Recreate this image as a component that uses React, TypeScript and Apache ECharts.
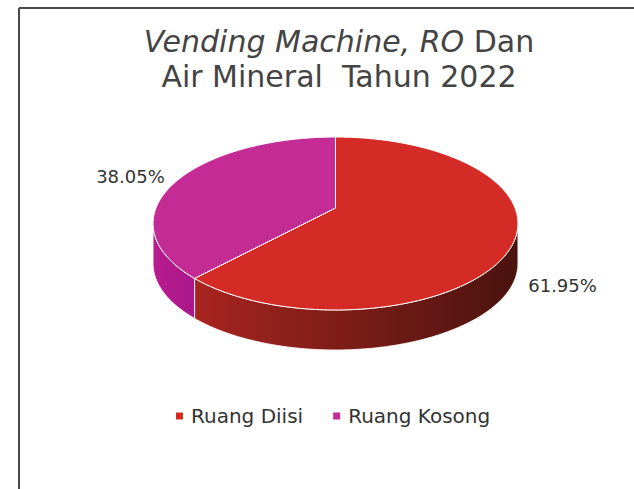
import React, { useEffect, useRef } from "react";
import * as echarts from "echarts";

const categories = ["Ruang Diisi", "Ruang Kosong"];
const values = [61.95, 38.05];
const labelTexts = ["61.95%", "38.05%"];
const topColors = ["#D52B26", "#C52B95"];
const sideColors = [
  ["#A8241F", "#4A130F"],
  ["#B81C8F", "#A9178A"],
];

const FONT = "DejaVu Sans";
const CX = 335.5;
const CY = 208;
const RX = 179.5;
const RY = 83.7;
const K = 0.1792;
const DEPTH = 40;

function proj(theta: number): number[] {
  const u = Math.sin(theta);
  const v = Math.cos(theta);
  const w = 1 / (1 + K * v);
  return [CX + RX * u * w, CY - RY * v * w];
}

function arc(a: number, b: number): number[][] {
  const pts: number[][] = [];
  const n = Math.max(2, Math.ceil(((b - a) * 180) / Math.PI));
  for (let j = 0; j <= n; j++) pts.push(proj(a + ((b - a) * j) / n));
  return pts;
}

const total = values.reduce((s, v) => s + v, 0);

function renderItem(params: any) {
  const i = params.seriesIndex;
  let before = 0;
  for (let j = 0; j < i; j++) before += values[j];
  const a = (before / total) * Math.PI * 2;
  const b = ((before + values[i]) / total) * Math.PI * 2;
  const children: any[] = [];

  const visA = Math.acos(-K);
  const visB = Math.PI * 2 - visA;
  const s = Math.max(a, visA);
  const e = Math.min(b, visB);
  if (e > s) {
    const top = arc(s, e);
    const bottom = top.map((p) => [p[0], p[1] + DEPTH]).reverse();
    children.push({
      type: "polygon",
      shape: { points: top.concat(bottom) },
      style: {
        fill: {
          type: "linear",
          x: 0,
          y: 0,
          x2: 1,
          y2: 0,
          colorStops: [
            { offset: 0, color: sideColors[i][0] },
            { offset: 1, color: sideColors[i][1] },
          ],
        },
        stroke: "#ffffff",
        lineWidth: 0.8,
      },
    });
  }

  const topPts = [[CX, CY]].concat(arc(a, b));
  children.push({
    type: "polygon",
    shape: { points: topPts },
    style: { fill: topColors[i], stroke: "#ffffff", lineWidth: 1 },
  });

  const mid = (a + b) / 2;
  const p = proj(mid);
  const right = Math.sin(mid) >= 0;
  const front = Math.cos(mid) < 0;
  children.push({
    type: "text",
    style: {
      text: labelTexts[i],
      x: p[0] + (right ? 14 : -14),
      y: p[1] + (front ? DEPTH + 5 : -3),
      align: right ? "left" : "right",
      verticalAlign: "middle",
      fill: "#333333",
      fontSize: 18,
      fontFamily: FONT,
    },
  });

  return { type: "group", children };
}

export default function App() {
  const ref = useRef<HTMLDivElement>(null);
  useEffect(() => {
    if (!ref.current) return;
    const chart = echarts.init(ref.current, undefined, { renderer: "svg" });
    chart.setOption({
      animation: false,
      backgroundColor: "#ffffff",
      title: {
        text: "{i|Vending Machine, RO} Dan\nAir Mineral  Tahun 2022",
        left: 334,
        textAlign: "center",
        top: 19,
        textStyle: {
          fontSize: 30,
          fontFamily: FONT,
          fontWeight: "normal",
          color: "#444444",
          lineHeight: 35,
          rich: {
            i: {
              fontStyle: "italic",
              fontSize: 30,
              fontFamily: FONT,
              color: "#444444",
              lineHeight: 35,
            },
          },
        },
      },
      legend: {
        data: categories,
        left: 171,
        top: 401,
        icon: "rect",
        itemWidth: 7,
        itemHeight: 7,
        itemGap: 30,
        textStyle: {
          fontSize: 20,
          fontFamily: FONT,
          color: "#333333",
          padding: [0, 0, 0, 3],
        },
      },
      graphic: [
        {
          type: "line",
          shape: { x1: 19, y1: 8, x2: 634, y2: 8 },
          style: { stroke: "#4a4a4a", lineWidth: 2 },
        },
        {
          type: "line",
          shape: { x1: 19, y1: 8, x2: 19, y2: 489 },
          style: { stroke: "#4a4a4a", lineWidth: 2 },
        },
      ],
      series: categories.map((name, i) => ({
        type: "custom",
        name,
        coordinateSystem: "none",
        itemStyle: { color: topColors[i] },
        renderItem,
        data: [values[i]],
      })),
    });
    return () => chart.dispose();
  }, []);
  return (
    <div
      ref={ref}
      style={{ position: "fixed", left: 0, top: 0, width: 634, height: 489 }}
    />
  );
}
